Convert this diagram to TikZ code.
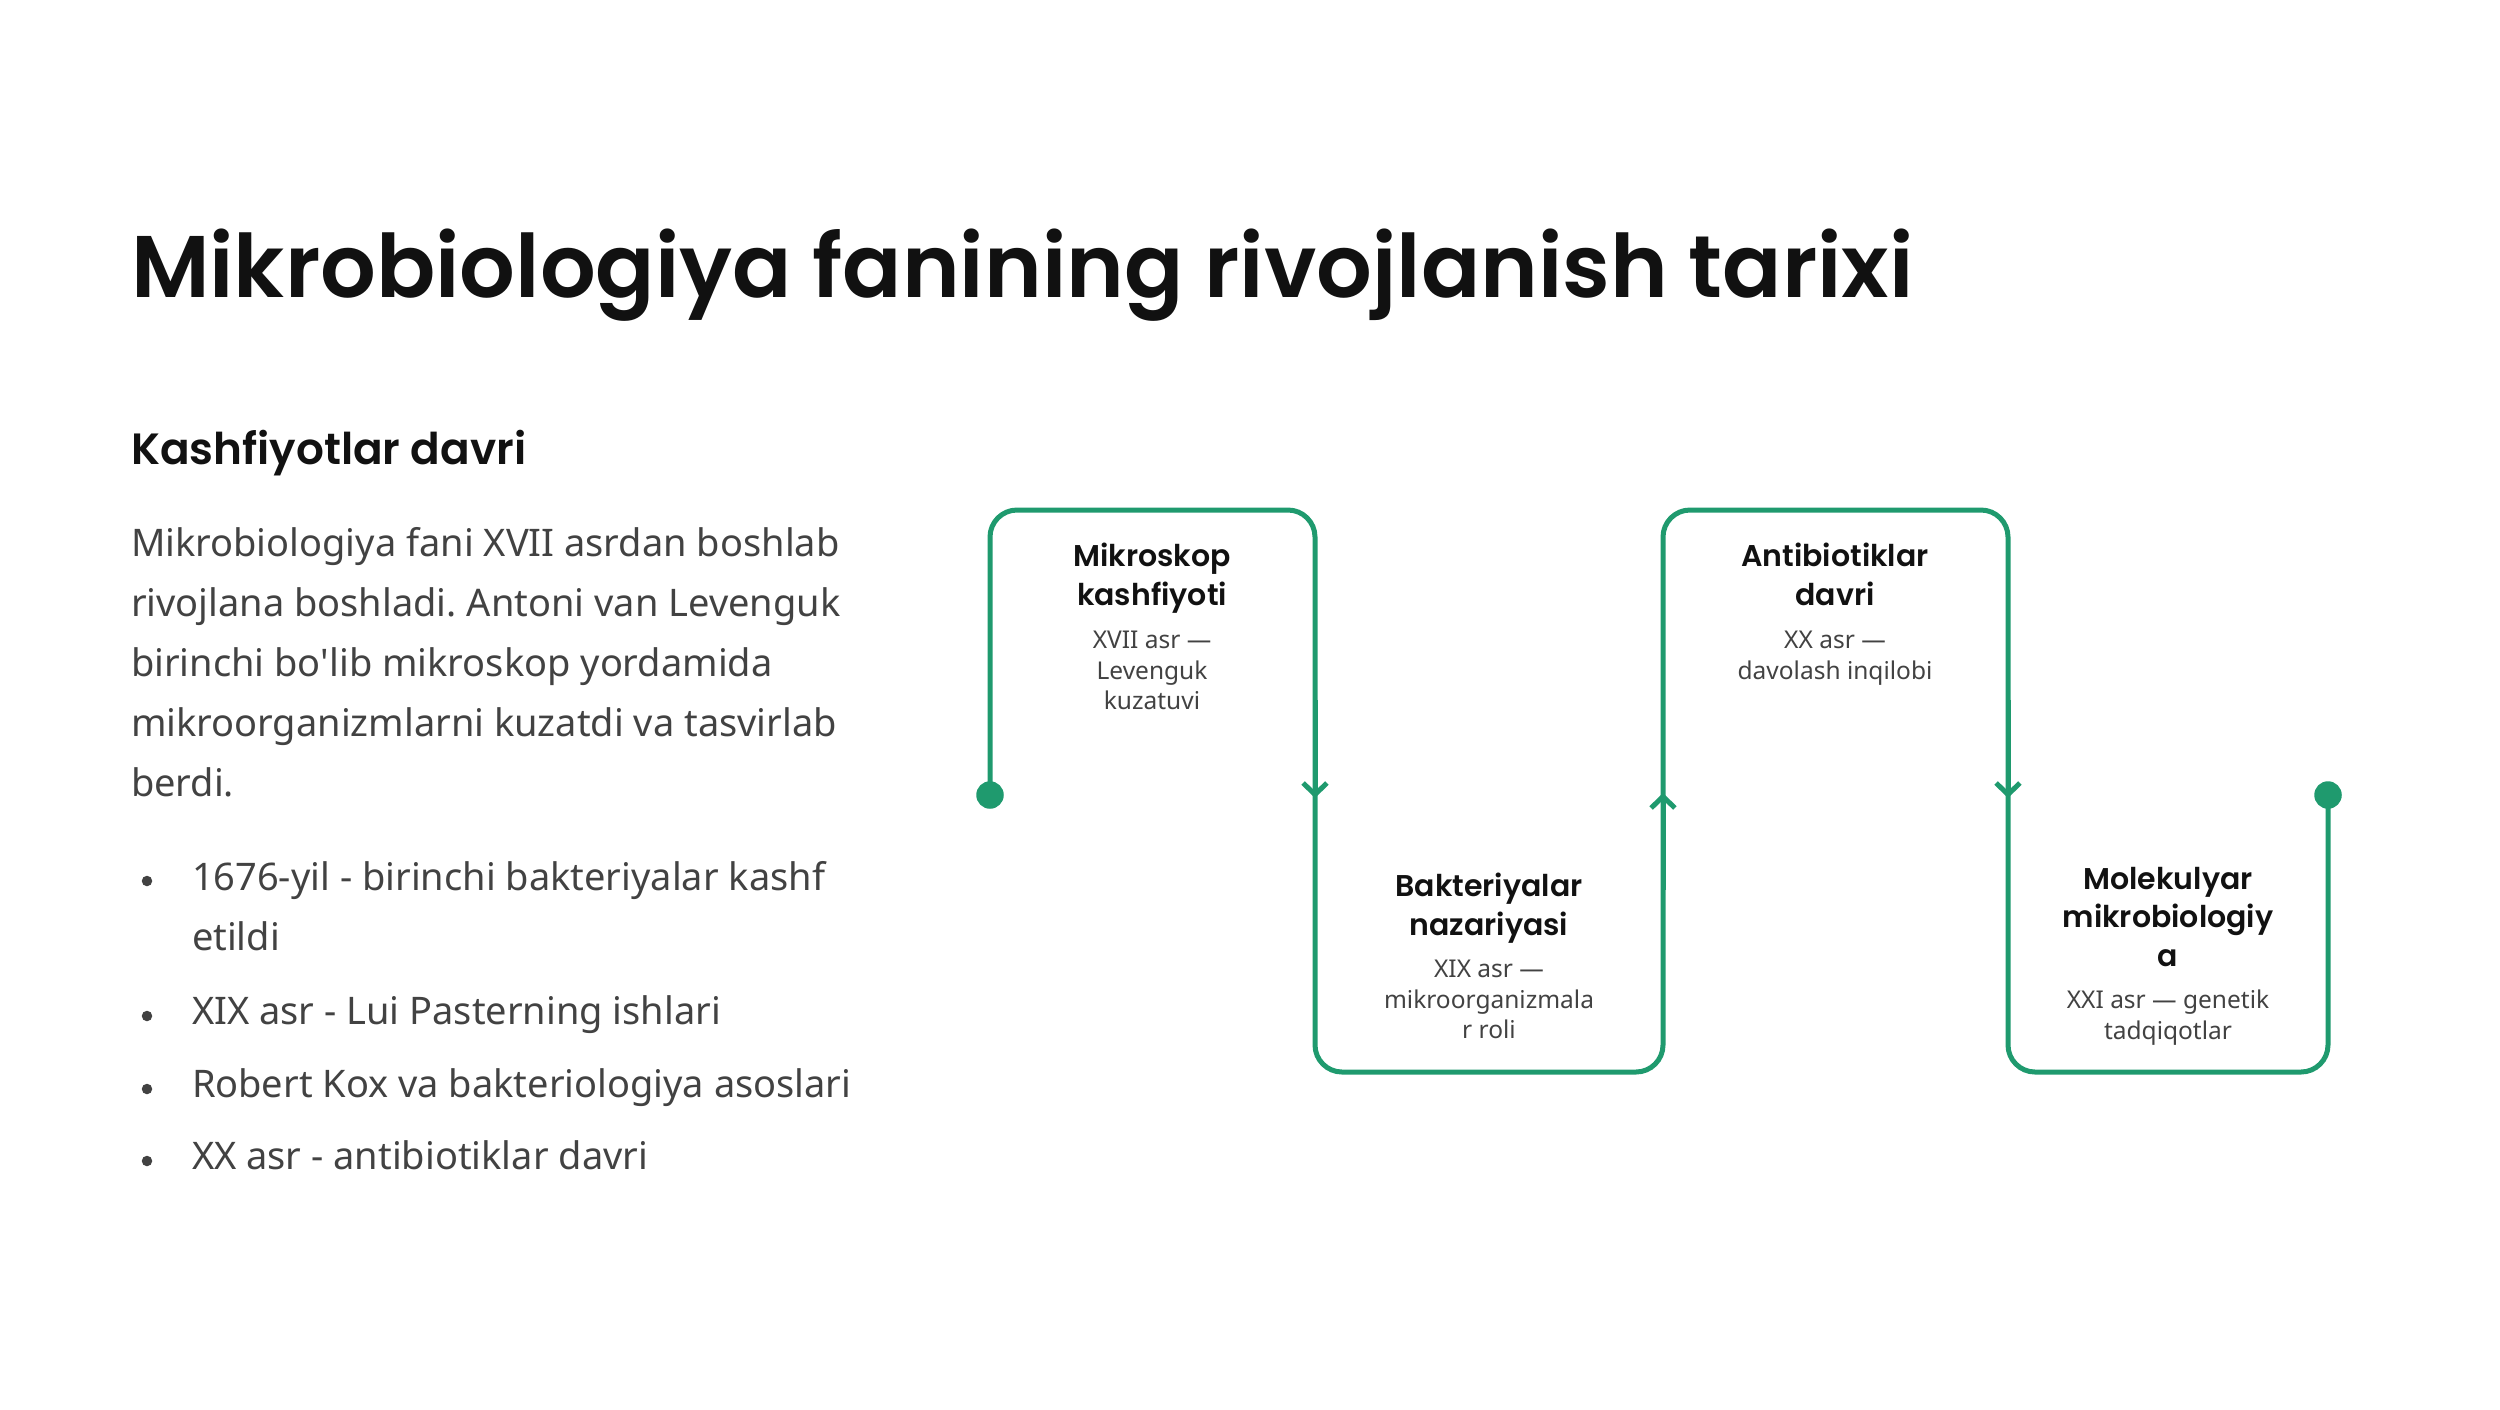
\documentclass[tikz,border=0pt]{standalone}
\usepackage{fontspec}
\setmainfont{Noto Sans}
\newfontfamily\headfont{Poppins}[BoldFont={Poppins SemiBold}]
\usetikzlibrary{positioning,arrows.meta}
\definecolor{tlgreen}{HTML}{1F9A6E}
\definecolor{bodygrey}{HTML}{424242}
\definecolor{inkdark}{HTML}{111111}
\frenchspacing

\begin{document}
\begin{tikzpicture}[x=0.4pt, y=-0.4pt,
  every node/.style={inner sep=0pt, outer sep=0pt},
  tl/.style={draw=tlgreen, line width=2pt},
  tip/.style={-{Straight Barb[length=4.6pt, width=9.5pt]}},
  dot/.style={circle, fill=tlgreen, minimum size=11pt},
  phase/.style={anchor=north, align=center, text=inkdark,
    font=\headfont\bfseries\fontsize{12}{15.4}\selectfont},
  phasesub/.style={anchor=north, align=center, text=bodygrey,
    font=\fontsize{9.8}{12.2}\selectfont},
  body/.style={anchor=north west, align=left, text=bodygrey,
    font=\fontsize{15.2}{24}\selectfont}]
\useasboundingbox (0,0) rectangle (2500,1409);

% left column
\node[anchor=base west, text=inkdark, font=\headfont\bfseries\fontsize{35}{42}\selectfont]
  (title) at (131,297) {Mikrobiologiya fanining rivojlanish tarixi};
\node[anchor=base west, text=inkdark, font=\headfont\bfseries\fontsize{17.5}{22}\selectfont]
  (head) at (131,464) {Kashfiyotlar davri};
\node[body] (para) at (131,527) {Mikrobiologiya fani XVII asrdan boshlab\\
  rivojlana boshladi. Antoni van Levenguk\\
  birinchi bo\textquotesingle lib mikroskop yordamida\\
  mikroorganizmlarni kuzatdi va tasvirlab\\
  berdi.};
\foreach \i/\y/\t in {1/861/{1676-yil - birinchi bakteriyalar kashf\\etildi},
  2/996/{XIX asr - Lui Pasterning ishlari},
  3/1069/{Robert Kox va bakteriologiya asoslari},
  4/1141/{XX asr - antibiotiklar davri}}
{
\node[body] (b\i) at (192,\y) {\t};
\fill[bodygrey] (147,\y+20) circle (2.1pt);
}

% timeline
\node[dot] (d1) at (990,795) {};
\node[dot] (d2) at (2328,795) {};
\draw[tl, rounded corners=10.8pt] (d1.center) -- (990,510) -- (1315,510) -- (1315,1072)
  -- (1663,1072) -- (1663,510) -- (2008,510) -- (2008,1072) -- (2328,1072) -- (d2.center);
\draw[tl, tip] (1315,700) -- (1315,798);
\draw[tl, tip] (1663,890) -- (1663,793);
\draw[tl, tip] (2008,700) -- (2008,798);

\foreach \n/\x/\ty/\sy/\t/\s in {
  1/1152/543/631/{Mikroskop\\kashfiyoti}/{XVII asr —\\Levenguk\\kuzatuvi},
  2/1489/873/960/{Bakteriyalar\\nazariyasi}/{XIX asr —\\mikroorganizmala\\r roli},
  3/1835/543/631/{Antibiotiklar\\davri}/{XX asr —\\davolash inqilobi},
  4/2168/867/990/{Molekulyar\\mikrobiologiy\\a}/{XXI asr — genetik\\tadqiqotlar}}
{
\node[phase] (t\n) at (\x,\ty) {\t};
\node[phasesub] (s\n) at (\x,\sy) {\s};
}
\end{tikzpicture}
\end{document}
